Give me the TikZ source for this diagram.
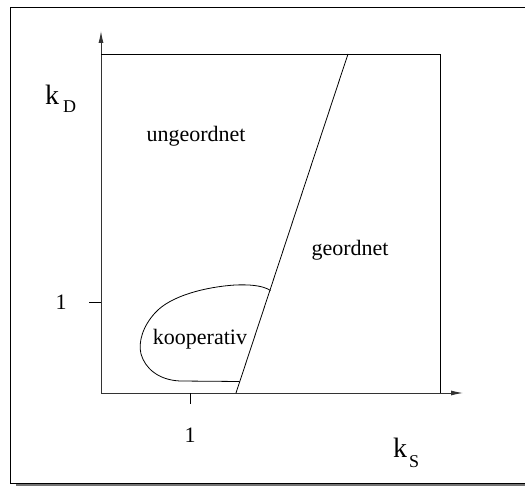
\documentclass[tikz,border=0pt]{standalone}
\usepackage{fontspec}
\setmainfont{Liberation Serif}
\usetikzlibrary{arrows.meta}

\tikzset{
  lbl/.style={font=\fontsize{22}{26}\selectfont, inner sep=0pt},
  axis/.style={line width=0.9pt, draw=black!80, -{Latex[length=12pt,width=5pt]}},
  edge/.style={line width=0.8pt},
}

\begin{document}
\begin{tikzpicture}[x=1pt, y=-1pt]
\useasboundingbox (0,0) rectangle (525,486);

% frame with shadow
\draw[black!55, line width=2pt] (16,485) -- (525,485);
\draw[line width=1pt] (10.5,7.5) rectangle (526,483);

% axes and box
\coordinate (O) at (101,393);
\coordinate (ytip) at (101,31);
\coordinate (xtip) at (463,393);
\coordinate (tl) at (101,54);
\coordinate (tr) at (440,54);
\coordinate (br) at (440,393);
\draw[axis] (O) -- (ytip);
\draw[axis] (O) -- (xtip);
\draw[edge] (tl) -- (tr) -- (br);

% ticks
\coordinate (xt) at (190,393);
\coordinate (yt) at (101,302);
\draw[edge] (xt) -- ++(0,11);
\draw[edge] (yt) -- ++(-12,0);
\node[lbl] (xone) at (190,435) {1};
\node[lbl] (yone) at (61,302) {1};

% boundary line
\coordinate (lo) at (236,393);
\coordinate (hi) at (348,54);
\draw[edge] (lo) -- (hi);

% cooperative region
\coordinate (b1) at (270.5,290.5);
\coordinate (b2) at (239.5,381.5);
\draw[edge] (b1) .. controls (262,285) and (248,284.5) .. (235,285)
  .. controls (205,287) and (170,296) .. (155,313)
  .. controls (143,326) and (138,342) .. (141,354)
  .. controls (145,368) and (158,380) .. (180,381)
  -- (b2);

% labels
\node[lbl] (ungeord) at (196,136) {ungeordnet};
\node[lbl] (geord) at (350,250) {geordnet};
\node[lbl] (koop) at (200,339) {kooperativ};
\node[anchor=base west, inner sep=0pt, font=\fontsize{28}{32}\selectfont] (kd) at (45,105)
  {k\hspace{4pt}\raisebox{-8pt}{\fontsize{18}{20}\selectfont D}};
\node[anchor=base west, inner sep=0pt, font=\fontsize{28}{32}\selectfont] (ks) at (393,457)
  {k\hspace{2pt}\raisebox{-10pt}{\fontsize{18}{20}\selectfont S}};
\end{tikzpicture}
\end{document}
